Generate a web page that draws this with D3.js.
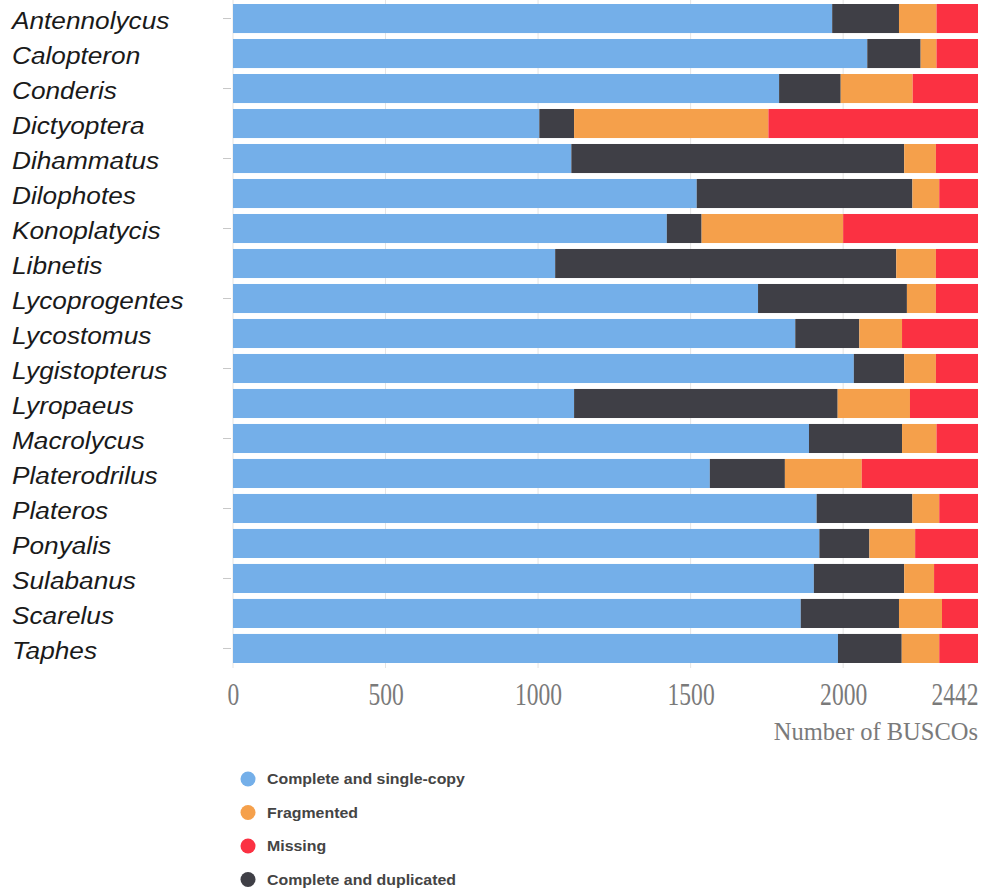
<!DOCTYPE html>
<html>
<head>
<meta charset="utf-8">
<script src="https://cdn.jsdelivr.net/npm/d3@7"></script>
<style>
  html, body { margin: 0; padding: 0; background: #fff; }
  svg { display: block; }
</style>
</head>
<body>
<svg id="chart" width="988" height="890"></svg>
<script>
// Genera, top to bottom
const genera = ["Antennolycus", "Calopteron", "Conderis", "Dictyoptera", "Dihammatus",
  "Dilophotes", "Konoplatycis", "Libnetis", "Lycoprogentes", "Lycostomus", "Lygistopterus",
  "Lyropaeus", "Macrolycus", "Platerodrilus", "Plateros", "Ponyalis", "Sulabanus",
  "Scarelus", "Taphes"];

// BUSCO counts per genus (total 2442)
const singleCopy = [1964, 2079, 1790, 1004, 1109, 1520, 1422, 1056, 1721, 1843, 2035,
  1118, 1888, 1563, 1913, 1922, 1904, 1861, 1983];
const duplicated = [219, 175, 202, 114, 1091, 707, 114, 1118, 488, 210, 165,
  864, 305, 246, 314, 164, 296, 322, 209];
const fragmented = [123, 52, 236, 637, 104, 88, 464, 130, 95, 140, 104,
  237, 113, 252, 88, 150, 98, 141, 123];
const missing = [136, 136, 214, 687, 138, 127, 442, 138, 138, 249, 138,
  223, 136, 381, 127, 206, 144, 118, 127];

const xTicks = [0, 500, 1000, 1500, 2000, 2442];
const totalBuscos = 2442;

const seriesKeys = ["single", "duplicated", "fragmented", "missing"];
const seriesColors = {
  single: "#74afe9",
  duplicated: "#3f3f46",
  fragmented: "#f5a04b",
  missing: "#fb3142"
};
const legendItems = [
  { key: "single", label: "Complete and single-copy" },
  { key: "fragmented", label: "Fragmented" },
  { key: "missing", label: "Missing" },
  { key: "duplicated", label: "Complete and duplicated" }
];

const rows = genera.map((g, i) => ({
  genus: g,
  single: singleCopy[i],
  duplicated: duplicated[i],
  fragmented: fragmented[i],
  missing: missing[i]
}));

const svg = d3.select("#chart");

const x = d3.scaleLinear().domain([0, totalBuscos]).range([233, 978]);
const y = d3.scaleBand().domain(genera).range([4, 663]).paddingInner(0.17).paddingOuter(0);

// vertical grid lines
svg.append("g")
  .selectAll("line")
  .data(xTicks.filter(t => t !== totalBuscos))
  .join("line")
  .attr("x1", d => x(d)).attr("x2", d => x(d))
  .attr("y1", 0).attr("y2", 668)
  .attr("stroke", "#e4e4e4")
  .attr("stroke-width", 1);

// small category ticks on the left (every other row)
svg.append("g")
  .selectAll("line")
  .data(genera.filter((g, i) => i % 2 === 0))
  .join("line")
  .attr("x1", 223).attr("x2", 231)
  .attr("y1", d => y(d) + y.bandwidth() / 2)
  .attr("y2", d => y(d) + y.bandwidth() / 2)
  .attr("stroke", "#c8c8c8")
  .attr("stroke-width", 1);

// stacked bars
const stack = d3.stack().keys(seriesKeys);
const stacked = stack(rows);

svg.append("g")
  .selectAll("g")
  .data(stacked)
  .join("g")
  .attr("fill", s => seriesColors[s.key])
  .selectAll("rect")
  .data(s => s)
  .join("rect")
  .attr("x", d => x(d[0]))
  .attr("width", d => x(d[1]) - x(d[0]))
  .attr("y", d => y(d.data.genus))
  .attr("height", y.bandwidth());

// genus labels
svg.append("g")
  .selectAll("text")
  .data(genera)
  .join("text")
  .attr("x", 12)
  .attr("y", d => y(d) + y.bandwidth() / 2 + 1.5)
  .attr("dy", "0.36em")
  .attr("font-family", "Liberation Sans, Arial, sans-serif")
  .attr("font-style", "italic")
  .attr("font-size", 24.5)
  .attr("fill", "#1a1a1a")
  .text(d => d)
  .each(function() {
    const w = this.getComputedTextLength();
    d3.select(this).attr("textLength", w * 1.07).attr("lengthAdjust", "spacingAndGlyphs");
  });

// x axis (narrow serif numerals)
const xAxis = d3.axisBottom(x).tickValues(xTicks).tickSize(0).tickPadding(0).tickFormat(d3.format("d"));
const axisG = svg.append("g").attr("transform", "translate(0,705)").call(xAxis);
axisG.select(".domain").remove();
axisG.selectAll("text")
  .attr("y", 0)
  .attr("dy", 0)
  .attr("font-family", "Liberation Serif, Times New Roman, serif")
  .attr("font-size", 31)
  .attr("fill", "#7a7a7a")
  .attr("text-anchor", d => d === totalBuscos ? "end" : "middle")
  .attr("transform", "scale(0.76,1)");

// axis title
svg.append("text")
  .attr("x", 978)
  .attr("y", 740)
  .attr("text-anchor", "end")
  .attr("font-family", "Liberation Serif, Times New Roman, serif")
  .attr("font-size", 24.5)
  .attr("fill", "#7a7a7a")
  .text("Number of BUSCOs");

// legend
const legend = svg.append("g")
  .selectAll("g")
  .data(legendItems)
  .join("g")
  .attr("transform", (d, i) => `translate(248, ${779 + i * 33.5})`);
legend.append("circle")
  .attr("r", 7.5)
  .attr("fill", d => seriesColors[d.key]);
legend.append("text")
  .attr("x", 19)
  .attr("dy", "0.35em")
  .attr("font-family", "Liberation Sans, Arial, sans-serif")
  .attr("font-weight", "bold")
  .attr("font-size", 15)
  .attr("fill", "#444")
  .text(d => d.label)
  .each(function() {
    const w = this.getComputedTextLength();
    d3.select(this).attr("textLength", w * 1.06).attr("lengthAdjust", "spacingAndGlyphs");
  });
</script>
</body>
</html>
